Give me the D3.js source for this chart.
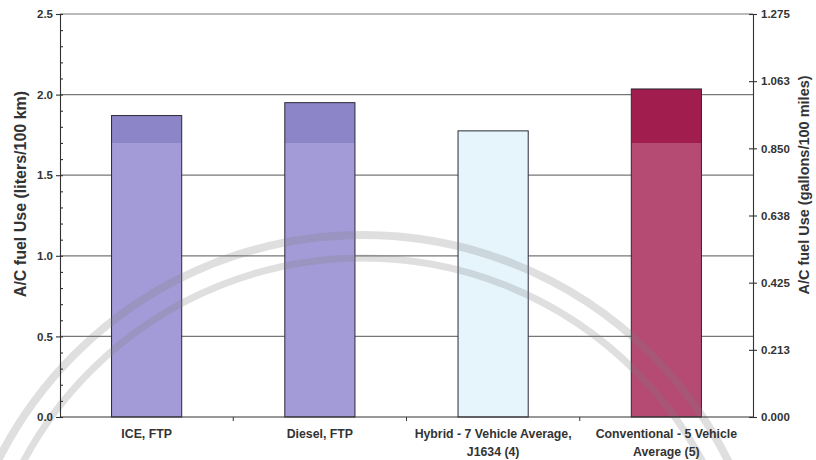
<!DOCTYPE html>
<html>
<head>
<meta charset="utf-8">
<script src="https://cdn.jsdelivr.net/npm/d3@7"></script>
<style>
  html, body { margin: 0; padding: 0; background: #fff; }
  svg { display: block; }
  text { font-family: "Liberation Sans", Arial, sans-serif; font-weight: bold; fill: #333; }
</style>
</head>
<body>
<svg id="chart" width="816" height="460"></svg>
<script>
// A/C fuel use by vehicle type
const categories = [
  ["ICE, FTP"],
  ["Diesel, FTP"],
  ["Hybrid - 7 Vehicle Average,", "J1634 (4)"],
  ["Conventional - 5 Vehicle", "Average (5)"]
];
const fuelUse = [1.87, 1.95, 1.775, 2.035];          // liters / 100 km
const leftTicks = [0, 0.5, 1.0, 1.5, 2.0, 2.5];
const rightTickValues = [0, 0.2125, 0.425, 0.6375, 0.85, 1.0625, 1.275];
const rightTickLabels = ["0.000", "0.213", "0.425", "0.638", "0.850", "1.063", "1.275"];

const barTop = ["#8c86c9", "#8c86c9", "#e6f5fc", "#a01d4d"];
const barLow = ["#a39bd7", "#a39bd7", "#e6f5fc", "#b54a72"];
const shadeAt = 1.70;

const svg = d3.select("#chart");
const plotLeft = 60, plotRight = 753, plotTop = 14, plotBottom = 417;

const y = d3.scaleLinear().domain([0, 2.5]).range([plotBottom, plotTop]);
const yR = d3.scaleLinear().domain([0, 1.275]).range([plotBottom, plotTop]);
const keys = categories.map((c, i) => i);
const x = d3.scaleBand().domain(keys).range([plotLeft, plotRight]).padding(0);
const barW = x.bandwidth() * 0.405;

// two-tone fills
const defs = svg.append("defs");
keys.forEach(i => {
  const g = defs.append("linearGradient")
    .attr("id", "fill" + i)
    .attr("gradientUnits", "userSpaceOnUse")
    .attr("x1", 0).attr("x2", 0)
    .attr("y1", y(0)).attr("y2", y(2.5));
  const t = shadeAt / 2.5;
  g.append("stop").attr("offset", 0).attr("stop-color", barLow[i]);
  g.append("stop").attr("offset", t).attr("stop-color", barLow[i]);
  g.append("stop").attr("offset", t).attr("stop-color", barTop[i]);
  g.append("stop").attr("offset", 1).attr("stop-color", barTop[i]);
});

// gridlines
svg.append("g").selectAll("line")
  .data(leftTicks.filter(d => d > 0))
  .join("line")
  .attr("x1", plotLeft).attr("x2", plotRight)
  .attr("y1", d => y(d)).attr("y2", d => y(d))
  .attr("stroke", "#777").attr("stroke-width", 1.2);

// bars
svg.append("g").selectAll("rect")
  .data(fuelUse)
  .join("rect")
  .attr("x", (d, i) => x(i) + (x.bandwidth() - barW) / 2)
  .attr("width", barW)
  .attr("y", d => y(d))
  .attr("height", d => y(0) - y(d))
  .attr("fill", (d, i) => `url(#fill${i})`)
  .attr("stroke", "#2a2a36").attr("stroke-width", 1);

// faint seal rings
const seal = svg.append("g").attr("fill", "none").attr("stroke", "#808080");
seal.append("circle").attr("cx", 363).attr("cy", 643).attr("r", 408)
  .attr("stroke-width", 8).attr("stroke-opacity", 0.25);
seal.append("circle").attr("cx", 363).attr("cy", 643).attr("r", 385)
  .attr("stroke-width", 7).attr("stroke-opacity", 0.25);

// left axis: major ticks outward, minor ticks inward
const axL = svg.append("g").attr("transform", `translate(${plotLeft},0)`)
  .call(d3.axisLeft(y).tickValues(leftTicks).tickFormat(d3.format(".1f")).tickSize(4).tickPadding(3));
svg.append("g").attr("transform", `translate(${plotLeft},0)`)
  .call(d3.axisRight(y).tickValues(d3.range(0, 26).map(k => k / 10)).tickSize(3).tickFormat(""))
  .call(g => g.select(".domain").remove());
axL.selectAll("text").attr("font-size", 11.5);

// right axis
const axR = svg.append("g").attr("transform", `translate(${plotRight},0)`)
  .call(d3.axisRight(yR).tickValues(rightTickValues)
    .tickFormat((d, i) => rightTickLabels[i]).tickSize(4).tickPadding(4));
svg.append("g").attr("transform", `translate(${plotRight},0)`)
  .call(d3.axisLeft(yR).tickValues(rightTickValues).tickSize(4).tickFormat(""))
  .call(g => g.select(".domain").remove());
axR.selectAll("text").attr("font-size", 11.5);

svg.selectAll(".domain, .tick line").attr("stroke", "#333").attr("stroke-width", 1.1);
svg.selectAll(".tick text").attr("fill", "#333");
svg.selectAll("g[font-family]").attr("font-family", null);

// category axis
svg.append("line").attr("x1", plotLeft).attr("x2", plotRight)
  .attr("y1", plotBottom).attr("y2", plotBottom).attr("stroke", "#333").attr("stroke-width", 1.1);
svg.append("g").selectAll("line")
  .data(keys.slice(1))
  .join("line")
  .attr("x1", d => x(d)).attr("x2", d => x(d))
  .attr("y1", plotBottom).attr("y2", plotBottom + 4)
  .attr("stroke", "#333");

const lab = svg.append("g").selectAll("text")
  .data(categories)
  .join("text")
  .attr("text-anchor", "middle")
  .attr("font-size", 12.3)
  .attr("y", 438);
lab.selectAll("tspan")
  .data((d, i) => d.map(s => ({ s, i })))
  .join("tspan")
  .attr("x", d => x(d.i) + x.bandwidth() / 2)
  .attr("dy", (d, j) => j ? 18 : 0)
  .text(d => d.s);

// axis titles
svg.append("text")
  .attr("transform", `translate(26,194) rotate(-90)`)
  .attr("text-anchor", "middle").attr("font-size", 16)
  .text("A/C fuel Use (liters/100 km)");
svg.append("text")
  .attr("transform", `translate(809,185) rotate(-90)`)
  .attr("text-anchor", "middle").attr("font-size", 14.5)
  .text("A/C fuel Use (gallons/100 miles)");
</script>
</body>
</html>
